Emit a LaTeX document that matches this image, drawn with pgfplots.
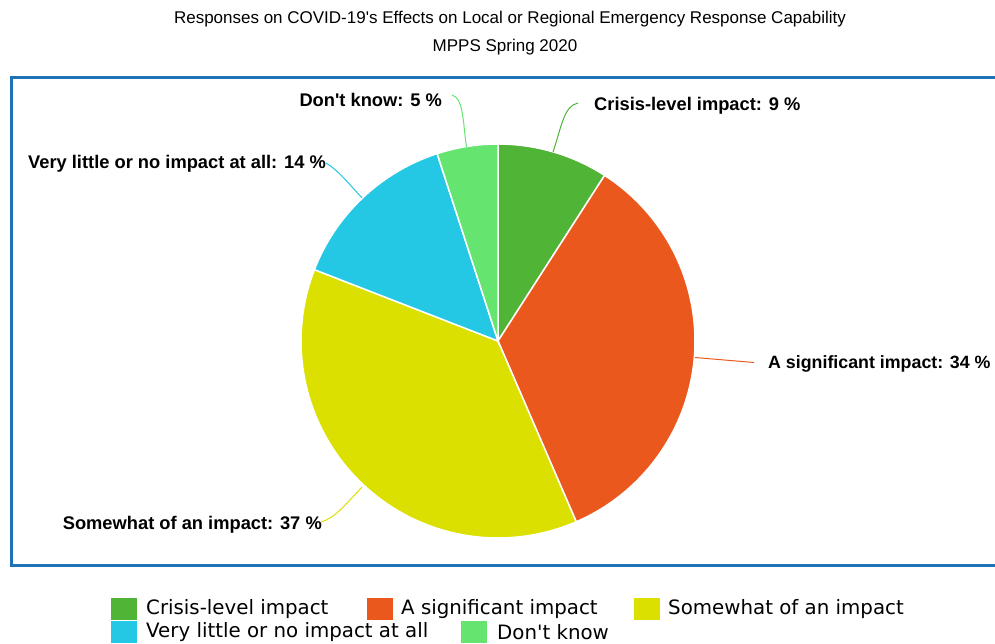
\documentclass[border=0pt]{standalone}
\usepackage{fontspec}
\setmainfont{Liberation Sans}[Ligatures=TeXOff]
\newfontfamily\legfont{DejaVu Sans}
\usepackage{pgfplots}
\pgfplotsset{compat=1.18}
\definecolor{cA}{HTML}{50B437}
\definecolor{cB}{HTML}{EA581E}
\definecolor{cC}{HTML}{DCE000}
\definecolor{cD}{HTML}{24C8E4}
\definecolor{cE}{HTML}{66E470}
\definecolor{boxblue}{HTML}{1E72B8}
% slice shares (percent), clockwise from 12 o'clock
\def\vA{9.1}\def\vB{34.4}\def\vC{37.4}\def\vD{14.1}\def\vE{5.0}
\newcommand\slice[3]{%
  \addplot[fill=#3, draw=white, line width=1.5pt, domain=#1:#2, samples=80, variable=\t]
    ({498+197*sin(\t)},{341-197*cos(\t)}) -- (498,341) -- cycle;}
\begin{document}
\begin{tikzpicture}
\pgfmathsetmacro\aA{0}
\pgfmathsetmacro\aB{\aA+3.6*\vA}
\pgfmathsetmacro\aC{\aB+3.6*\vB}
\pgfmathsetmacro\aD{\aC+3.6*\vC}
\pgfmathsetmacro\aE{\aD+3.6*\vD}
\pgfmathsetmacro\aF{\aE+3.6*\vE}
\begin{axis}[at={(0,0)}, anchor=south west, scale only axis, width=995pt, height=643pt,
  xmin=0, xmax=995, ymin=0, ymax=643, y dir=reverse, axis lines=none, clip=false]
\slice{\aA}{\aB}{cA}
\slice{\aB}{\aC}{cB}
\slice{\aC}{\aD}{cC}
\slice{\aD}{\aE}{cD}
\slice{\aE}{\aF}{cE}
% frame
\draw[boxblue, line width=3pt] (1010,77.5) -- (11,77.5) -- (11,565) -- (1010,565);
% titles
\node[font=\fontsize{17}{20}\selectfont] at (510,19) {Responses on COVID-19's Effects on Local or Regional Emergency Response Capability};
\node[font=\fontsize{17}{20}\selectfont] at (505,47) {MPPS Spring 2020};
% connectors
\draw[cA, line width=1pt] (553,152) .. controls (562,125) and (564,106) .. (578,103);
\draw[cB, line width=1pt] (695,357.5) -- (754,362.5);
\draw[cC, line width=1pt] (362,487) .. controls (345,505) and (335,518) .. (321,522);
\draw[cD, line width=1pt] (362,198) .. controls (350,185) and (338,170) .. (326,163);
\draw[cE, line width=1pt] (466.5,147) .. controls (463,125) and (464,98) .. (452,95);
% labels
\begin{scope}[every node/.style={font=\bfseries\fontsize{18.3}{21}\selectfont, inner sep=0pt}]
\node[anchor=west] at (594,106) {Crisis-level impact: 9 \%};
\node[anchor=west, font=\bfseries\fontsize{17.8}{21}\selectfont] at (768,364) {A significant impact: 34 \%};
\node[anchor=east] at (322,525) {Somewhat of an impact: 37 \%};
\node[anchor=east] at (326,164) {Very little or no impact at all: 14 \%};
\node[anchor=east] at (442,100) {Don't know: 5 \%};
\end{scope}
% legend
\begin{scope}[every node/.style={font=\legfont\fontsize{19.8}{22}\selectfont, inner sep=0pt, anchor=west}]
\fill[cA] (111,598) rectangle (137,620); \node at (146,609) {Crisis-level impact};
\fill[cB] (367,598) rectangle (393,620); \node at (401,609) {A significant impact};
\fill[cC] (634,598) rectangle (660,620); \node at (668,609) {Somewhat of an impact};
\fill[cD] (111,621) rectangle (137,643); \node at (146,632) {Very little or no impact at all};
\fill[cE] (461,621) rectangle (487,643); \node at (497,632) {Don't know};
\end{scope}
\end{axis}
\pgfresetboundingbox
\path (0,0) rectangle (995pt,643pt);
\end{tikzpicture}
\end{document}
